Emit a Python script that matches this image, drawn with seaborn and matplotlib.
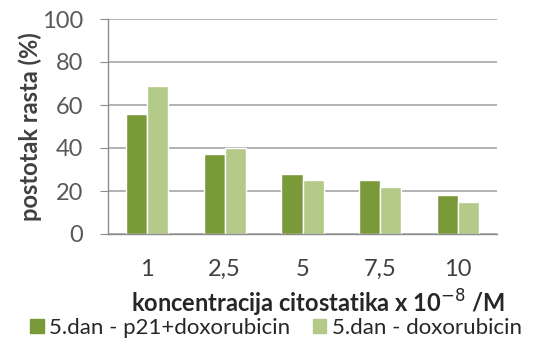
import matplotlib.pyplot as plt
import pandas as pd
import seaborn as sns

# Chart data
concentrations = ['1', '2,5', '5', '7,5', '10']
p21_doxo = [56, 37, 28, 25, 18]
doxo_only = [69, 40, 25, 22, 15]
series_names = ['5.dan - p21+doxorubicin', '5.dan - doxorubicin']

df = pd.DataFrame({
    'konc': concentrations * 2,
    'rast': p21_doxo + doxo_only,
    'serija': [series_names[0]] * 5 + [series_names[1]] * 5,
})

sns.set_style('white')
plt.rcParams['font.family'] = ['Lato', 'DejaVu Sans']

fig = plt.figure(figsize=(5.36, 3.47), dpi=100)
ax = fig.add_axes([108 / 536, 1 - 234 / 347, (497 - 108) / 536, (234 - 19) / 347])

sns.barplot(data=df, x='konc', y='rast', hue='serija', palette=['#7a9a3a', '#b3ca88'],
            width=0.54, ax=ax, legend=False, saturation=1)

# Axis range and ticks
ax.set_ylim(0, 100)
ax.set_xlim(-0.5, 4.5)
ax.set_yticks(range(0, 101, 20))
ax.yaxis.grid(True, color='#a6a6a6', linewidth=1.2)
ax.set_axisbelow(True)

ax.set_xticks(range(5))
ax.set_xticklabels(concentrations)
ax.set_xticks([i - 0.5 for i in range(6)], minor=True)
ax.tick_params(axis='x', which='major', length=0, pad=18, labelsize=17, labelcolor='#404040')
ax.tick_params(axis='x', which='minor', length=6, color='#8c8c8c', direction='out')
ax.tick_params(axis='y', length=6, color='#8c8c8c', direction='out', labelsize=17,
               labelcolor='#595959', pad=12, left=True)

for side in ['top', 'right']:
    ax.spines[side].set_visible(False)
for side in ['left', 'bottom']:
    ax.spines[side].set_color('#8c8c8c')
    ax.spines[side].set_linewidth(1)

# Labels
ax.set_ylabel('postotak rasta (%)', fontsize=17, fontweight='bold', color='#404040')
ax.yaxis.set_label_coords(-0.17, 0.5)
ax.set_xlabel('koncentracija citostatika x 10$^{-8}$ /M', fontsize=17, fontweight='bold',
              color='#262626')
ax.xaxis.set_label_coords(0.54, -0.25)

# Legend below the axes
handles = [plt.Rectangle((0, 0), 1, 1, color=c) for c in ['#7a9a3a', '#b3ca88']]
fig.legend(handles, series_names, loc='center', bbox_to_anchor=(0.515, 1 - 328 / 347),
           ncol=2, frameon=False, fontsize=16, handlelength=0.6, handleheight=0.6,
           handletextpad=0.25, columnspacing=1.0, labelcolor='#262626')

plt.savefig('out.png', dpi=100)
